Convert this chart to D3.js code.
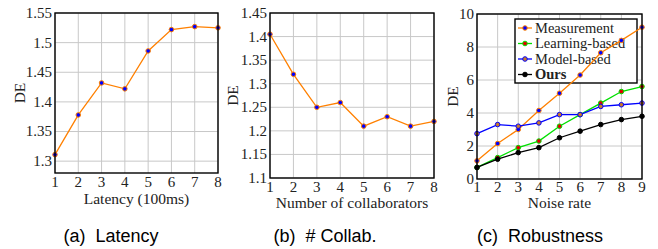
<!DOCTYPE html>
<html>
<head>
<meta charset="utf-8">
<script src="https://cdn.jsdelivr.net/npm/d3@7"></script>
<style>
  body { margin: 0; background: #fff; }
  svg { display: block; }
  .tick-label { font-family: "Liberation Serif", serif; font-size: 15px; fill: #222; }
  .axis-title { font-family: "Liberation Serif", serif; font-size: 15.5px; fill: #222; }
  .caption { font-family: "Liberation Sans", Arial, sans-serif; font-size: 18px; fill: #000; }
  .legend-text { font-family: "Liberation Serif", serif; font-size: 14.5px; fill: #222; }
</style>
</head>
<body>
<div id="chart"></div>
<script>
// data
var latencyX = [1, 2, 3, 4, 5, 6, 7, 8];
var latencyDE = [1.311, 1.378, 1.432, 1.422, 1.486, 1.522, 1.527, 1.525];

var collabX = [1, 2, 3, 4, 5, 6, 7, 8];
var collabDE = [1.405, 1.32, 1.25, 1.26, 1.21, 1.23, 1.21, 1.22];

var noiseX = [1, 2, 3, 4, 5, 6, 7, 8, 9];
var measurement = [1.1, 2.15, 3.0, 4.15, 5.2, 6.3, 7.65, 8.4, 9.2];
var learningBased = [0.7, 1.3, 1.9, 2.3, 3.2, 3.9, 4.6, 5.3, 5.6];
var modelBased = [2.75, 3.3, 3.2, 3.4, 3.9, 3.9, 4.4, 4.5, 4.6];
var ours = [0.7, 1.2, 1.6, 1.9, 2.5, 2.9, 3.3, 3.6, 3.8];

var ticksA = [1.3, 1.35, 1.4, 1.45, 1.5, 1.55];
var ticksB = [1.1, 1.15, 1.2, 1.25, 1.3, 1.35, 1.4, 1.45];
var ticksC = [0, 2, 4, 6, 8, 10];

var orange = "#ff8000", blue = "#0000ff", green = "#00e000", red = "#e00000", black = "#000";

var svg = d3.select("#chart").append("svg")
    .attr("width", 658)
    .attr("height", 249);

var panels = [
  {
    left: 55, right: 218, top: 13, bottom: 173,
    xDom: [1, 8], yDom: [1.28, 1.55], yTicks: ticksA, xTicks: latencyX,
    yFmt: d => d3.format("")(+d.toFixed(2)),
    xTitle: "Latency (100ms)", xTickY: 187, xTitleY: 204, yTitleX: 20,
    caption: "(a)  Latency", capX: 111,
    series: [{x: latencyX, y: latencyDE, stroke: orange, fill: blue}]
  },
  {
    left: 270, right: 434, top: 13, bottom: 178,
    xDom: [1, 8], yDom: [1.1, 1.45], yTicks: ticksB, xTicks: collabX,
    yFmt: d => d3.format("")(+d.toFixed(2)),
    xTitle: "Number of collaborators", xTickY: 192, xTitleY: 208, yTitleX: 233,
    caption: "(b)  # Collab.", capX: 325,
    series: [{x: collabX, y: collabDE, stroke: orange, fill: blue}]
  },
  {
    left: 477, right: 642, top: 14, bottom: 179,
    xDom: [1, 9], yDom: [0, 10], yTicks: ticksC, xTicks: noiseX,
    yFmt: d => String(d),
    xTitle: "Noise rate", xTickY: 192, xTitleY: 208, yTitleX: 453,
    caption: "(c)  Robustness", capX: 540,
    series: [
      {x: noiseX, y: measurement, stroke: orange, fill: blue, name: "Measurement"},
      {x: noiseX, y: learningBased, stroke: green, fill: red, name: "Learning-based"},
      {x: noiseX, y: modelBased, stroke: blue, fill: "#c87a2a", name: "Model-based"},
      {x: noiseX, y: ours, stroke: black, fill: black, name: "Ours", bold: true}
    ],
    legend: true
  }
];

panels.forEach(function(p) {
  var x = d3.scaleLinear().domain(p.xDom).range([p.left, p.right]);
  var y = d3.scaleLinear().domain(p.yDom).range([p.bottom, p.top]);
  var g = svg.append("g");

  // grid
  g.selectAll(".vgrid").data(p.xTicks).enter().append("line")
      .attr("x1", d => x(d)).attr("x2", d => x(d))
      .attr("y1", p.top).attr("y2", p.bottom)
      .attr("stroke", "#c8c8c8").attr("stroke-width", 1);
  g.selectAll(".hgrid").data(p.yTicks).enter().append("line")
      .attr("x1", p.left).attr("x2", p.right)
      .attr("y1", d => y(d)).attr("y2", d => y(d))
      .attr("stroke", "#c8c8c8").attr("stroke-width", 1);

  // tick labels
  g.selectAll(".ylab").data(p.yTicks).enter().append("text")
      .attr("class", "tick-label")
      .attr("x", p.left - 3).attr("y", d => y(d))
      .attr("dy", "0.33em")
      .attr("text-anchor", "end")
      .text(p.yFmt);
  g.selectAll(".xlab").data(p.xTicks).enter().append("text")
      .attr("class", "tick-label")
      .attr("x", d => x(d)).attr("y", p.xTickY)
      .attr("text-anchor", "middle")
      .text(d => d);

  // titles
  g.append("text").attr("class", "axis-title")
      .attr("x", (p.left + p.right) / 2).attr("y", p.xTitleY)
      .attr("text-anchor", "middle").text(p.xTitle);
  g.append("text").attr("class", "axis-title")
      .attr("transform", `translate(${p.yTitleX}, ${(p.top + p.bottom) / 2}) rotate(-90)`)
      .attr("text-anchor", "middle").attr("dy", "0.35em").text("DE");
  g.append("text").attr("class", "caption")
      .attr("x", p.capX).attr("y", 242)
      .attr("text-anchor", "middle").style("white-space", "pre").text(p.caption);

  // legend sits under the lines, as in the original
  if (p.legend) {
    var lx = 515, ly = 19, lw = 122, lh = 64;
    var lg = g.append("g");
    lg.append("rect").attr("x", lx).attr("y", ly).attr("width", lw).attr("height", lh)
        .attr("fill", "#fff").attr("stroke", "#000").attr("stroke-width", 1.4);
    p.series.forEach(function(s, i) {
      var ry = ly + 9 + i * 15.5;
      lg.append("line").attr("x1", lx + 3).attr("x2", lx + 17)
          .attr("y1", ry).attr("y2", ry)
          .attr("stroke", s.stroke).attr("stroke-width", 1.3);
      lg.append("circle").attr("cx", lx + 10).attr("cy", ry).attr("r", 2.3)
          .attr("fill", s.fill).attr("stroke", s.stroke).attr("stroke-width", 1);
      lg.append("text").attr("class", "legend-text")
          .attr("x", lx + 20).attr("y", ry).attr("dy", "0.33em")
          .style("font-weight", s.bold ? "bold" : "normal")
          .text(s.name);
    });
  }

  // series
  p.series.forEach(function(s) {
    var pts = s.x.map((v, i) => [v, s.y[i]]);
    g.append("path").datum(pts)
        .attr("fill", "none").attr("stroke", s.stroke).attr("stroke-width", 1.3)
        .attr("d", d3.line().x(d => x(d[0])).y(d => y(d[1])));
    g.selectAll(null).data(pts).enter().append("circle")
        .attr("cx", d => x(d[0])).attr("cy", d => y(d[1]))
        .attr("r", 2.3)
        .attr("fill", s.fill).attr("stroke", s.stroke).attr("stroke-width", 1);
  });

  // frame
  g.append("rect")
      .attr("x", p.left).attr("y", p.top)
      .attr("width", p.right - p.left).attr("height", p.bottom - p.top)
      .attr("fill", "none").attr("stroke", "#000").attr("stroke-width", 1.4);
});
</script>
</body>
</html>
